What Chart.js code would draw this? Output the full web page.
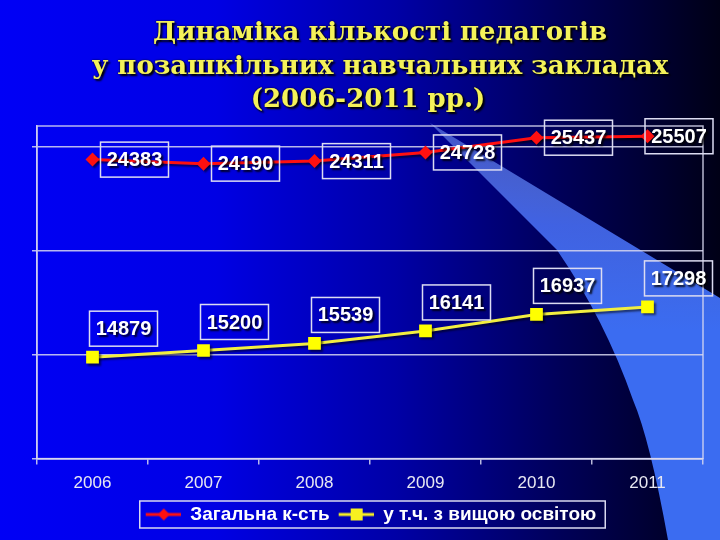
<!DOCTYPE html>
<html lang="uk">
<head>
<meta charset="utf-8">
<title>Динаміка кількості педагогів</title>
<script src="https://cdn.jsdelivr.net/npm/chart.js@4.4.1/dist/chart.umd.min.js"></script>
<style>
  html, body { margin: 0; padding: 0; }
  body {
    width: 720px;
    height: 540px;
    overflow: hidden;
    background: linear-gradient(to right, #0000f6 0%, #0000e4 30%, #0000a6 55%, #000058 78%, #000016 100%);
  }
  #wrap { position: relative; width: 720px; height: 540px; }
  #title {
    position: absolute;
    left: 40px;
    top: 15px;
    width: 680px;
    text-align: center;
    font-family: "DejaVu Serif", serif;
    font-weight: bold;
    font-size: 26px;
    line-height: 33.5px;
    color: #f4f25a;
    text-shadow: 2px 2px 2px #000, 0 0 2px #000;
    z-index: 2;
  }
  #title .last { padding-right: 24px; }
  #chart { position: absolute; left: 0; top: 0; }
</style>
</head>
<body>
<div id="wrap">
  <div id="title"></div>
  <canvas id="chart" width="720" height="540"></canvas>
</div>
<script>
const titleLines = [
  "Динаміка кількості педагогів",
  "у позашкільних навчальних закладах",
  "(2006-2011 рр.)",
];
const years = ["2006", "2007", "2008", "2009", "2010", "2011"];
const totalTeachers = [24383, 24190, 24311, 24728, 25437, 25507];
const higherEducation = [14879, 15200, 15539, 16141, 16937, 17298];
const seriesNames = ["Загальна к-сть", "у т.ч. з вищою освітою"];
const yGridValues = [10000, 15000, 20000, 25000];
const yMin = 10000;
const yMax = 26000;

const gridColor = "rgba(215, 215, 240, 0.85)";

// Title (HTML so it can have the dark shadow)
const titleEl = document.getElementById("title");
titleLines.forEach((line, i) => {
  const div = document.createElement("div");
  div.textContent = line;
  if (i === titleLines.length - 1) div.classList.add("last");
  titleEl.appendChild(div);
});

// small picture used as legend symbol: line with marker (left margin keeps items apart)
function legendIcon(color, shape) {
  const c = document.createElement("canvas");
  c.width = 42;
  c.height = 16;
  const g = c.getContext("2d");
  g.strokeStyle = color;
  g.lineWidth = 3;
  g.beginPath();
  g.moveTo(7, 8);
  g.lineTo(42, 8);
  g.stroke();
  g.fillStyle = color;
  if (shape === "diamond") {
    g.beginPath();
    g.moveTo(25, 2);
    g.lineTo(31, 8);
    g.lineTo(25, 14);
    g.lineTo(19, 8);
    g.closePath();
    g.fill();
  } else {
    g.fillRect(19, 2, 12, 12);
  }
  return c;
}
const legendIcons = [legendIcon("#ff1010", "diamond"), legendIcon("#f8f020", "square")];

// light blue swoosh behind the chart (decoration only)
const backdrop = {
  id: "backdrop",
  beforeDraw(chart) {
    const ctx = chart.ctx;
    ctx.save();
    const grad = ctx.createLinearGradient(0, 120, 0, 330);
    grad.addColorStop(0, "rgba(130, 165, 255, 0.5)");
    grad.addColorStop(0.5, "rgba(75, 115, 250, 0.85)");
    grad.addColorStop(1, "#3b6cf1");
    ctx.fillStyle = grad;
    ctx.beginPath();
    ctx.moveTo(430, 123);
    ctx.lineTo(720, 298);
    ctx.lineTo(720, 540);
    ctx.lineTo(668, 540);
    ctx.quadraticCurveTo(650, 440, 633, 400);
    ctx.quadraticCurveTo(605, 320, 557, 250);
    ctx.lineTo(430, 123);
    ctx.closePath();
    ctx.fill();
    ctx.restore();
  },
};

// frame around plot area, shadows for lines, boxed value labels
const valueBoxes = {
  id: "valueBoxes",
  beforeDatasetsDraw(chart) {
    const { ctx, chartArea } = chart;
    ctx.save();
    ctx.strokeStyle = gridColor;
    ctx.lineWidth = 1.5;
    ctx.strokeRect(chartArea.left, chartArea.top, chartArea.right - chartArea.left, chartArea.bottom - chartArea.top);
    ctx.restore();
    ctx.save();
    ctx.shadowColor = "rgba(0, 0, 0, 0.55)";
    ctx.shadowOffsetX = 2;
    ctx.shadowOffsetY = 2;
    ctx.shadowBlur = 2;
  },
  afterDatasetsDraw(chart) {
    const ctx = chart.ctx;
    ctx.restore();
    ctx.save();
    ctx.font = "bold 20px 'Liberation Sans', Arial, sans-serif";
    ctx.textAlign = "center";
    ctx.textBaseline = "middle";
    const w = 68;
    const h = 35;
    chart.data.datasets.forEach((ds, i) => {
      const meta = chart.getDatasetMeta(i);
      meta.data.forEach((pt, j) => {
        let left, top;
        if (i === 0) {
          // to the right of the point, pushed back inside the picture
          left = Math.min(pt.x + 8, chart.width - 7 - w);
          top = pt.y - h / 2;
        } else {
          // above the point
          left = pt.x - 3;
          top = pt.y - 11 - h;
        }
        ctx.shadowColor = "transparent";
        ctx.lineWidth = 1.5;
        ctx.strokeStyle = "#dcdcf2";
        ctx.strokeRect(left, top, w, h);
        ctx.shadowColor = "rgba(0, 0, 0, 0.85)";
        ctx.shadowOffsetX = 2;
        ctx.shadowOffsetY = 2;
        ctx.shadowBlur = 2;
        ctx.fillStyle = "#ffffff";
        ctx.fillText(String(ds.data[j]), left + w / 2, top + h / 2 + 1);
        ctx.shadowOffsetX = 0;
        ctx.shadowOffsetY = 0;
        ctx.shadowBlur = 0;
      });
    });
    ctx.restore();
  },
  afterDraw(chart) {
    // white box round the legend
    const boxes = chart.legend && chart.legend.legendHitBoxes;
    if (!boxes || !boxes.length) return;
    const first = boxes[0];
    const last = boxes[boxes.length - 1];
    const ctx = chart.ctx;
    ctx.save();
    ctx.strokeStyle = "#d8d8f0";
    ctx.lineWidth = 1.5;
    ctx.strokeRect(first.left + 1, first.top - 4, last.left + last.width - first.left + 8, first.height + 8);
    ctx.restore();
  },
};

const ctx = document.getElementById("chart");

new Chart(ctx, {
  type: "line",
  data: {
    labels: years,
    datasets: [
      {
        label: seriesNames[0],
        data: totalTeachers,
        borderColor: "#ff1010",
        backgroundColor: "#ff1010",
        borderWidth: 3,
        pointStyle: "rectRot",
        pointRadius: 7,
        pointBorderWidth: 0,
        tension: 0,
      },
      {
        label: seriesNames[1],
        data: higherEducation,
        borderColor: "#f2ee40",
        backgroundColor: "#ffff00",
        borderWidth: 3,
        pointStyle: "rect",
        pointRadius: 9,
        pointBorderWidth: 0,
        tension: 0,
      },
    ],
  },
  options: {
    responsive: false,
    animation: false,
    layout: {
      padding: { top: 126, left: 32, right: 17, bottom: 6 },
    },
    scales: {
      x: {
        offset: true,
        grid: {
          offset: true,
          drawOnChartArea: false,
          drawTicks: true,
          tickLength: 6,
          color: gridColor,
          lineWidth: 1.5,
        },
        border: { color: gridColor, width: 1.5 },
        ticks: {
          color: "#e8e8f2",
          padding: 9,
          font: { family: "'Liberation Sans', Arial, sans-serif", size: 17 },
        },
      },
      y: {
        min: yMin,
        max: yMax,
        afterBuildTicks: (axis) => {
          axis.ticks = yGridValues.map((v) => ({ value: v }));
        },
        grid: {
          color: gridColor,
          lineWidth: 1.5,
          drawTicks: true,
          tickLength: 5,
        },
        border: { color: gridColor, width: 1.5 },
        ticks: { display: false },
      },
    },
    plugins: {
      legend: {
        position: "bottom",
        labels: {
          color: "#ffffff",
          usePointStyle: true,
          pointStyleWidth: 42,
          padding: 2,
          font: { family: "'Liberation Sans', Arial, sans-serif", size: 19, weight: "bold" },
          generateLabels(chart) {
            const items = Chart.defaults.plugins.legend.labels.generateLabels(chart);
            items.forEach((item, i) => {
              item.pointStyle = legendIcons[i];
            });
            return items;
          },
        },
      },
      tooltip: { enabled: false },
    },
  },
  plugins: [backdrop, valueBoxes],
});
</script>
</body>
</html>
